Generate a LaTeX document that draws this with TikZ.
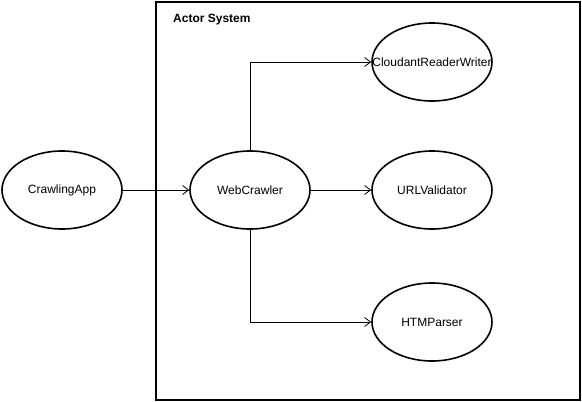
\documentclass[tikz,border=0pt]{standalone}
\usepackage{fontspec}
\setmainfont{Liberation Sans}
\usetikzlibrary{shapes.geometric,arrows.meta}

\begin{document}
\begin{tikzpicture}[x=1pt,y=-1pt,
        actor/.style={draw, ellipse, line width=1.6pt, minimum width=120pt, minimum height=78pt, inner sep=0pt, font=\fontsize{12}{14}\selectfont},
        msg/.style={line width=0.8pt, -{Straight Barb[length=6pt,width=9pt]}}]
        \useasboundingbox (0,0) rectangle (582,402);

        %actor system
        \draw[line width=1.6pt] (156,2) rectangle (580,400);
        \node[anchor=base west, inner sep=0pt, font=\bfseries\fontsize{12}{14}\selectfont] (title) at (173,22) {Actor System};

        %actors
        \node[actor] (app) at (62,190) {CrawlingApp};
        \node[actor] (crawler) at (250,190) {WebCrawler};
        \node[actor] (db) at (432,62) {\makebox[0pt]{CloudantReaderWriter}};
        \node[actor] (validator) at (432,190) {URLValidator};
        \node[actor] (parser) at (432,322) {HTMParser};

        %messages
        \draw[msg] (app) -- (crawler);
        \draw[msg] (crawler) |- (db);
        \draw[msg] (crawler) -- (validator);
        \draw[msg] (crawler) |- (parser);
\end{tikzpicture}
\end{document}
